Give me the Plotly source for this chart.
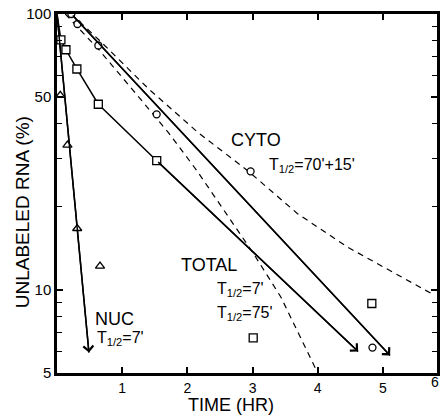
import numpy as np
import plotly.graph_objects as go

# ---------------- data ----------------
# NUC (triangles) and its fitted line (T1/2 = 7')
nuc_t = [0.05, 0.16, 0.31]
nuc_v = [50.7, 33.5, 16.7]
nuc_out_t = [0.66]
nuc_out_v = [12.2]
nuc_line_t = [0.0, 0.49]
nuc_line_v = [100.0, 5.93]

# TOTAL (squares) and its line
tot_t = [0.06, 0.137, 0.305, 0.634, 1.53]
tot_v = [80.6, 74.2, 63.2, 47.1, 29.4]
tot_out_t = [3.01, 4.83]
tot_out_v = [6.7, 8.93]
tot_line_t = [0.0, 0.06, 0.137, 0.305, 0.634, 1.53, 4.62]
tot_line_v = [100.0, 80.6, 74.2, 63.2, 47.1, 29.4, 5.98]

# CYTO (circles) and its line
cyt_t = [0.22, 0.314, 0.634, 1.529, 2.97, 4.84]
cyt_v = [100.0, 92.0, 76.9, 43.3, 26.9, 6.18]
cyt_line_t = [0.22, 5.11]
cyt_line_v = [100.0, 5.79]

# dashed curves
dash_a_t = [0.22, 0.645, 1.407, 2.169, 2.93, 3.69, 4.456, 5.22, 5.78]
dash_a_v = [100.0, 80.5, 53.5, 37.1, 27.0, 18.9, 14.3, 11.4, 9.6]
dash_b_t = [0.127, 0.645, 1.255, 1.712, 2.139, 2.58, 3.01, 3.434, 4.0]
dash_b_v = [100.0, 74.1, 50.0, 37.1, 27.2, 19.2, 13.6, 9.43, 5.0]

x_ticks = [1, 2, 3, 4, 5]
y_ticks = [5, 10, 50, 100]
y_minor = [6, 7, 8, 9, 20, 30, 40, 60, 70, 80, 90]

FONT = "Liberation Sans, Arial, sans-serif"
BLACK = "black"

W, H = 445, 417
L, R, T, B = 57, 5, 14, 44
pw, ph = W - L - R, H - T - B


def px_to_paper(px, py):
    return (px - L) / pw, (H - B - py) / ph


fig = go.Figure()


def line(t, v, dash="solid", w=1.5):
    fig.add_trace(go.Scatter(x=t, y=v, mode="lines",
                             line=dict(color=BLACK, width=w, dash=dash),
                             showlegend=False, hoverinfo="skip"))


def marks(t, v, symbol, size):
    fig.add_trace(go.Scatter(x=t, y=v, mode="markers",
                             marker=dict(symbol=symbol, size=size, color="white",
                                         line=dict(color=BLACK, width=1.3)),
                             showlegend=False, hoverinfo="skip"))


line(dash_a_t, dash_a_v, dash="6px,5px", w=1.2)
line(dash_b_t, dash_b_v, dash="6px,5px", w=1.2)
line(nuc_line_t, nuc_line_v)
line(tot_line_t, tot_line_v)
line(cyt_line_t, cyt_line_v)
marks(nuc_t + nuc_out_t, nuc_v + nuc_out_v, "triangle-up", 8)
marks(tot_t + tot_out_t, tot_v + tot_out_v, "square", 8)
marks(cyt_t, cyt_v, "circle", 7)

annotations = []
# arrow heads at the ends of the three solid lines
for lt, lv in [(nuc_line_t, nuc_line_v), (tot_line_t, tot_line_v), (cyt_line_t, cyt_line_v)]:
    annotations.append(dict(x=lt[-1], y=float(np.log10(lv[-1])), xref="x", yref="y",
                            ax=lt[-2], ay=float(np.log10(lv[-2])), axref="x", ayref="y",
                            text="", showarrow=True, arrowhead=4, arrowsize=1.3,
                            arrowwidth=1.5, arrowcolor=BLACK, standoff=0))


def label(text, px, py, size, xanchor="left", angle=0):
    x, y = px_to_paper(px, py)
    annotations.append(dict(text=text, x=x, y=y, xref="paper", yref="paper",
                            xanchor=xanchor, yanchor="middle", showarrow=False,
                            textangle=angle,
                            font=dict(family=FONT, size=size, color=BLACK)))


label("CYTO", 230, 140, 18)
label("T<sub>1/2</sub>=70'+15'", 269, 165, 16)
label("TOTAL", 180, 265, 18)
label("T<sub>1/2</sub>=7'", 216, 289, 16)
label("T<sub>1/2</sub>=75'", 216, 313, 16)
label("NUC", 93, 319, 18)
label("T<sub>1/2</sub>=7'", 95, 338, 16)
label("TIME (HR)", 232, 405, 18, xanchor="center")
label("UNLABELED RNA (%)", 22, 212, 19, xanchor="center", angle=-90)
label("6", 444, 382, 14, xanchor="right")

fig.update_layout(
    annotations=annotations,
    width=W, height=H,
    margin=dict(l=L, r=R, t=T, b=B),
    paper_bgcolor="white", plot_bgcolor="white",
    font=dict(family=FONT, size=14, color=BLACK),
    xaxis=dict(range=[0, 5.83], tickvals=x_ticks, ticks="inside", ticklen=6,
               tickwidth=1.5, tickcolor=BLACK, showline=True, linewidth=2.5,
               linecolor=BLACK, mirror="ticks", showgrid=False, zeroline=False,
               tickfont=dict(size=14)),
    yaxis=dict(type="log", range=[float(np.log10(5)), 2], tickvals=y_ticks,
               ticktext=[str(v) for v in y_ticks], ticks="inside", ticklen=6,
               tickwidth=1.5, tickcolor=BLACK, showline=True, linewidth=2.5,
               linecolor=BLACK, mirror="ticks", showgrid=False, zeroline=False,
               tickfont=dict(size=15),
               minor=dict(tickvals=y_minor, ticks="inside", ticklen=5,
                          tickwidth=1.2, tickcolor=BLACK, showgrid=False)),
)

fig.write_html("out.html")
